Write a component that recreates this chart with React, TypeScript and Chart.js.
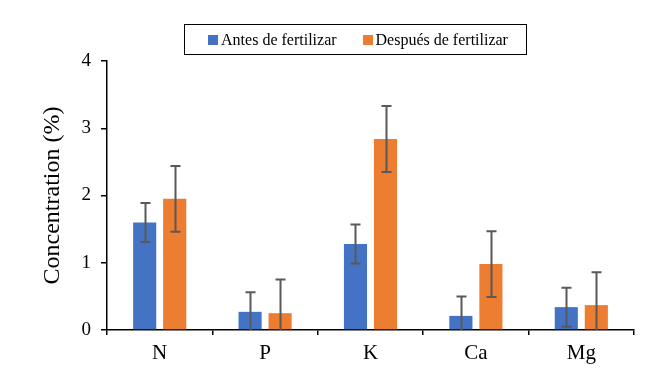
import React, { useEffect, useRef } from "react";
import { Chart, registerables } from "chart.js";

Chart.register(...registerables);

const categories = ["N", "P", "K", "Ca", "Mg"];
const antes = [1.6, 0.27, 1.28, 0.21, 0.34];
const despues = [1.95, 0.25, 2.84, 0.98, 0.37];
const antesErr = [0.29, 0.29, 0.29, 0.29, 0.29];
const despuesErr = [0.49, 0.5, 0.49, 0.49, 0.49];
const seriesLabels = ["Antes de fertilizar", "Después de fertilizar"];
const yTicks = [0, 1, 2, 3, 4];

const FONT = '"Liberation Serif", "Times New Roman", serif';
const BLUE = "#4472C4";
const ORANGE = "#ED7D31";

const errorBarPlugin = {
  id: "errorBars",
  afterDatasetsDraw(chart: any) {
    const { ctx, chartArea } = chart;
    const yScale = chart.scales.y;
    ctx.save();
    ctx.beginPath();
    ctx.rect(chartArea.left, chartArea.top - 5, chartArea.right - chartArea.left, chartArea.bottom - chartArea.top + 5);
    ctx.clip();
    ctx.strokeStyle = "#595959";
    ctx.lineWidth = 2;
    chart.data.datasets.forEach((ds: any, di: number) => {
      const meta = chart.getDatasetMeta(di);
      const errs: number[] = ds.errors;
      meta.data.forEach((bar: any, i: number) => {
        const v = ds.data[i];
        const e = errs[i];
        const x = Math.round(bar.x) + 0.5;
        const yTop = yScale.getPixelForValue(v + e);
        const yBot = yScale.getPixelForValue(v - e);
        const cap = 5;
        ctx.beginPath();
        ctx.moveTo(x, yTop);
        ctx.lineTo(x, yBot);
        ctx.moveTo(x - cap, yTop);
        ctx.lineTo(x + cap, yTop);
        ctx.moveTo(x - cap, yBot);
        ctx.lineTo(x + cap, yBot);
        ctx.stroke();
      });
    });
    ctx.restore();
  },
};

const boxLegendPlugin = {
  id: "boxLegend",
  afterDraw(chart: any) {
    const { ctx } = chart;
    const ds = chart.data.datasets;
    ctx.save();
    ctx.font = `16px ${FONT}`;
    ctx.textBaseline = "middle";
    const sq = 10;
    const sqGap = 3;
    const itemGap = 26;
    const widths = ds.map((d: any) => ctx.measureText(d.label).width);
    const itemsW = widths.reduce((a: number, w: number) => a + sq + sqGap + w, 0) + itemGap * (ds.length - 1);
    const cx = 355;
    const cy = 40;
    const padL = 24;
    const padR = 18;
    let x = cx - itemsW / 2 + (padL - padR) / 2;
    const boxL = Math.round(x - padL) + 0.5;
    const boxR = Math.round(x + itemsW + padR) + 0.5;
    ctx.strokeStyle = "#000";
    ctx.lineWidth = 1;
    ctx.strokeRect(boxL, 24.5, boxR - boxL, 30);
    ds.forEach((d: any, i: number) => {
      ctx.fillStyle = d.backgroundColor;
      ctx.fillRect(Math.round(x), cy - 5, sq, sq);
      ctx.fillStyle = "#000";
      ctx.textAlign = "left";
      ctx.fillText(d.label, x + sq + sqGap, cy + 1);
      x += sq + sqGap + widths[i] + itemGap;
    });
    ctx.restore();
  },
};

export default function App() {
  const ref = useRef<HTMLCanvasElement | null>(null);
  useEffect(() => {
    if (!ref.current) return;
    const chart = new Chart(ref.current, {
      type: "bar",
      data: {
        labels: categories,
        datasets: [
          { label: seriesLabels[0], data: antes, errors: antesErr, backgroundColor: BLUE } as any,
          { label: seriesLabels[1], data: despues, errors: despuesErr, backgroundColor: ORANGE } as any,
        ],
      },
      options: {
        animation: false,
        responsive: true,
        maintainAspectRatio: false,
        devicePixelRatio: 1,
        categoryPercentage: 0.57,
        barPercentage: 0.77,
        layout: { padding: { left: 0, top: 61, right: 27, bottom: 0 } },
        plugins: {
          legend: { display: false },
          tooltip: { enabled: false },
        },
        scales: {
          x: {
            grid: {
              display: true,
              drawOnChartArea: false,
              drawTicks: true,
              tickLength: 5,
              color: "#000",
              lineWidth: 1.5,
              offset: true,
            },
            border: { display: true, color: "#000", width: 1.5 },
            ticks: {
              color: "#000",
              font: { family: FONT, size: 21 },
              padding: 6,
            },
            afterFit: (s: any) => {
              s.height = 44;
            },
          },
          y: {
            min: 0,
            max: 4,
            afterBuildTicks: (s: any) => {
              s.ticks = yTicks.map((v) => ({ value: v }));
            },
            grid: {
              display: true,
              drawOnChartArea: false,
              drawTicks: true,
              tickLength: 6,
              color: "#000",
              lineWidth: 1.5,
            },
            border: { display: true, color: "#000", width: 1.5 },
            ticks: {
              color: "#000",
              font: { family: FONT, size: 19 },
              padding: 10,
            },
            title: {
              display: true,
              text: "Concentration (%)",
              color: "#000",
              font: { family: FONT, size: 24 },
              padding: { top: 38, bottom: 0 },
            },
            afterFit: (s: any) => {
              s.width = 107;
            },
          },
        },
      },
      plugins: [errorBarPlugin, boxLegendPlugin],
    } as any);
    return () => chart.destroy();
  }, []);
  return (
    <div style={{ position: "absolute", left: 0, top: 0, width: 661, height: 374, background: "#fff" }}>
      <canvas ref={ref} />
    </div>
  );
}
